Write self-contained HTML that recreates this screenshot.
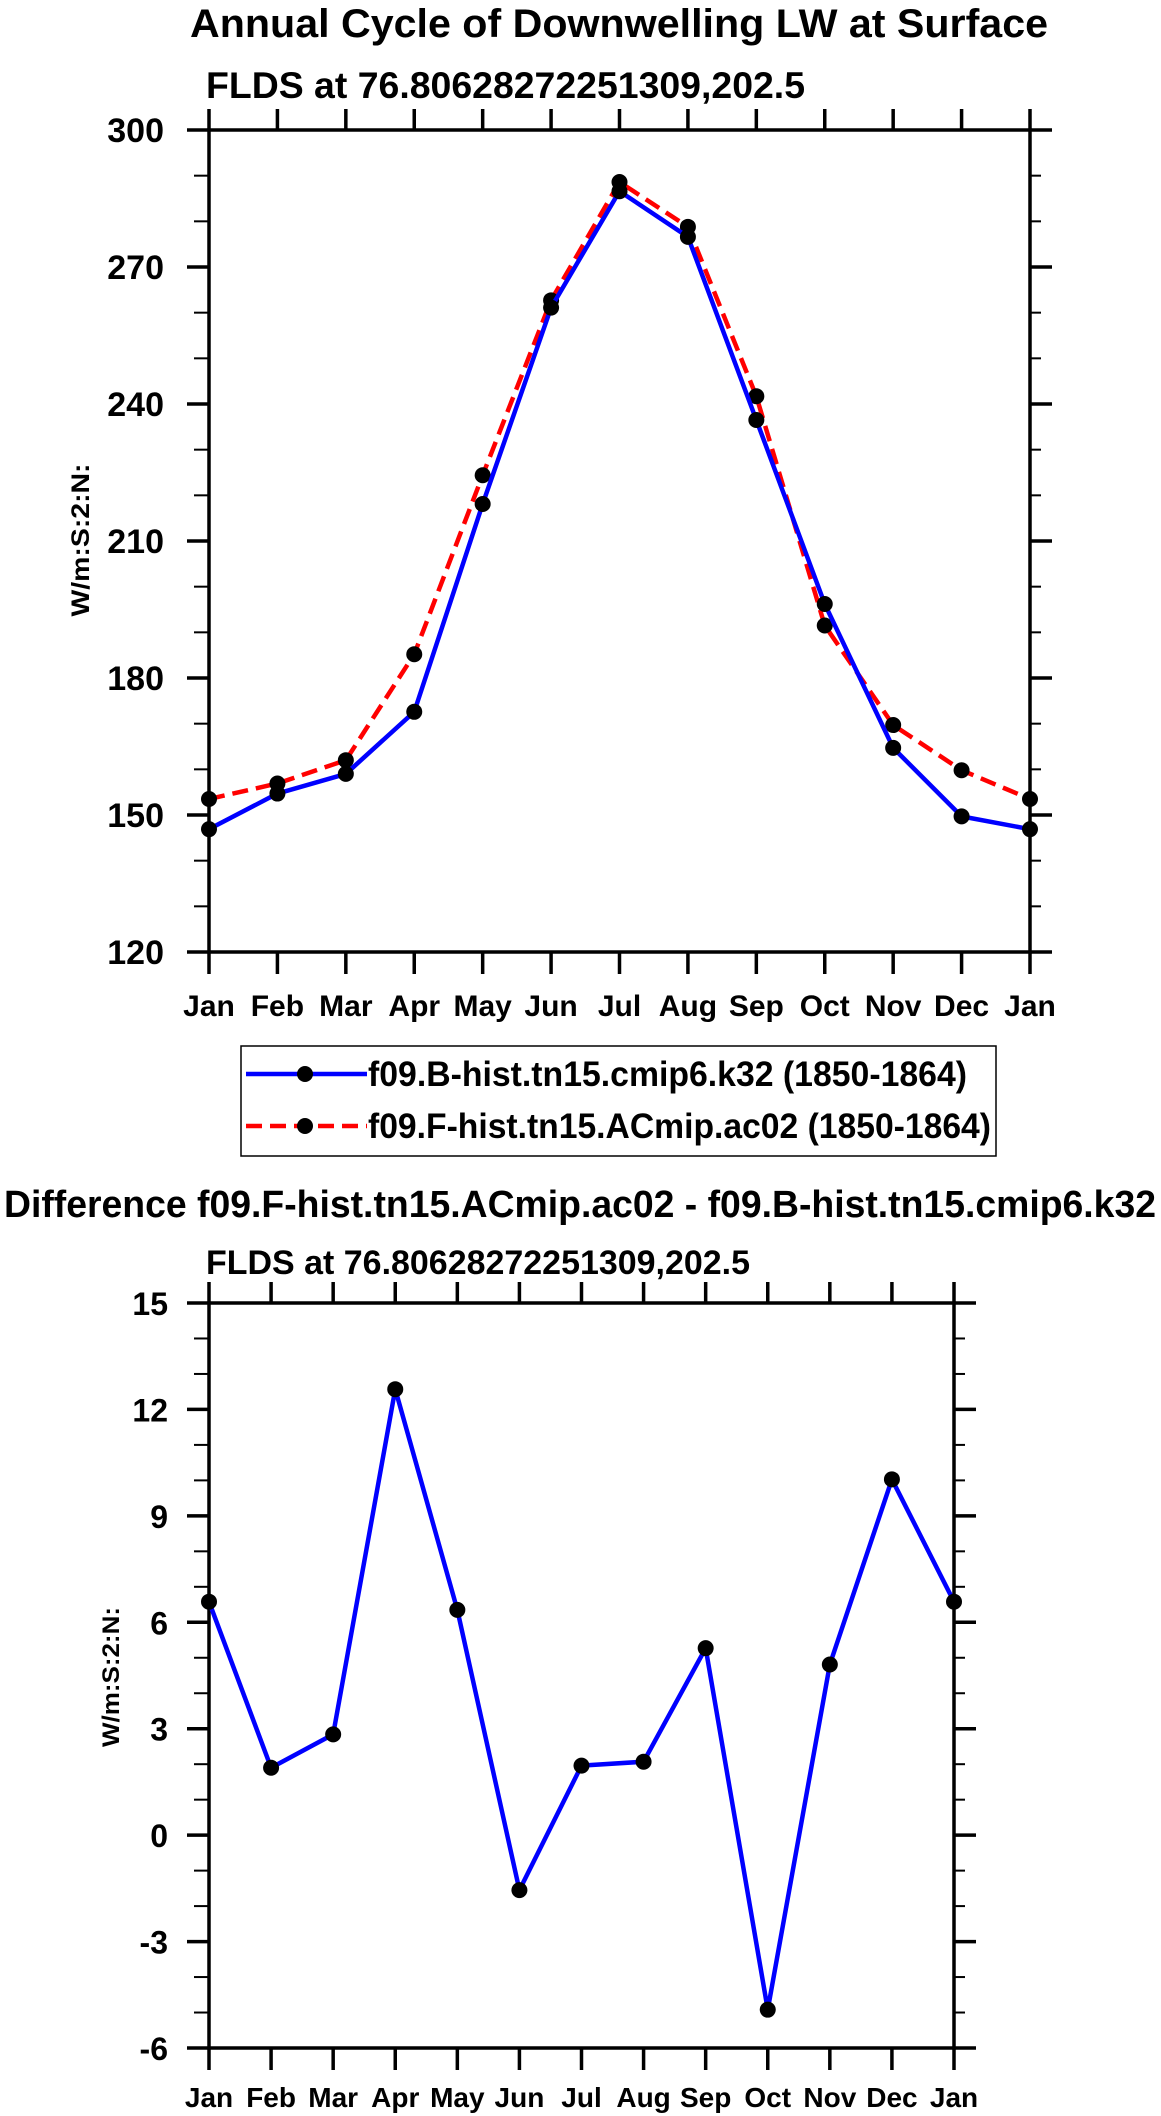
<!DOCTYPE html>
<html><head><meta charset="utf-8"><style>
html,body{margin:0;padding:0;background:#fff}
svg{display:block}
text{font-family:"Liberation Sans",sans-serif;font-weight:bold;fill:#000}
</style></head><body>
<svg id="chart" width="1161" height="2116" viewBox="0 0 1161 2116" xmlns="http://www.w3.org/2000/svg">
<text x="619" y="37" font-size="40" text-anchor="middle" textLength="858" lengthAdjust="spacingAndGlyphs">Annual Cycle of Downwelling LW at Surface</text>
<text x="206" y="98" font-size="37" textLength="599" lengthAdjust="spacingAndGlyphs">FLDS at 76.80628272251309,202.5</text>
<text x="0" y="0" font-size="25" text-anchor="middle" textLength="153" lengthAdjust="spacingAndGlyphs" transform="translate(89,540) rotate(-90)">W/m:S:2:N:</text>
<g id="top"></g>
<rect x="241" y="1046" width="755" height="110" fill="none" stroke="#000" stroke-width="1.5"/>
<g>
<line x1="246" y1="1074" x2="367" y2="1074" stroke="#0000ff" stroke-width="4.5"/>
<circle cx="305" cy="1074" r="8" fill="#000"/>
<text x="368" y="1086" font-size="35" textLength="599" lengthAdjust="spacingAndGlyphs">f09.B-hist.tn15.cmip6.k32 (1850-1864)</text>
</g>
<g>
<line x1="246" y1="1126" x2="367" y2="1126" stroke="#ff0000" stroke-width="4.5" stroke-dasharray="16,8"/>
<circle cx="305" cy="1126" r="8" fill="#000"/>
<text x="368" y="1138" font-size="35" textLength="623" lengthAdjust="spacingAndGlyphs">f09.F-hist.tn15.ACmip.ac02 (1850-1864)</text>
</g>
<text x="4" y="1217" font-size="38" textLength="1152" lengthAdjust="spacingAndGlyphs">Difference f09.F-hist.tn15.ACmip.ac02 - f09.B-hist.tn15.cmip6.k32</text>
<text x="206" y="1274" font-size="34" textLength="544" lengthAdjust="spacingAndGlyphs">FLDS at 76.80628272251309,202.5</text>
<text x="0" y="0" font-size="24" text-anchor="middle" textLength="140" lengthAdjust="spacingAndGlyphs" transform="translate(119,1677) rotate(-90)">W/m:S:2:N:</text>
<g id="bot"></g>
</svg>
<script>
const months = ["Jan","Feb","Mar","Apr","May","Jun","Jul","Aug","Sep","Oct","Nov","Dec","Jan"];
const topBlue = [146.9,154.7,159.0,172.6,218.1,261.1,286.6,276.6,236.5,196.2,164.7,149.7,146.9];
const topRed = [153.5,156.9,162.0,185.2,224.4,262.7,288.6,278.8,241.7,191.5,169.7,159.8,153.5];
const topTicks = [120,150,180,210,240,270,300];
const diffVals = [6.58,1.9,2.84,12.57,6.35,-1.55,1.96,2.07,5.27,-4.92,4.81,10.03,6.58];
const diffTicks = [-6,-3,0,3,6,9,12,15];
const NS="http://www.w3.org/2000/svg";
function mk(parent,tag,attrs){const e=document.createElementNS(NS,tag);for(const k in attrs)e.setAttribute(k,attrs[k]);parent.appendChild(e);return e;}
function drawPanel(g,cfg){
  const {L,R,T,B,ymin,ymax,ticks,minorStep,labelX,labelY,prefix,xfs,yfs}=cfg;
  const xs=i=>L+(R-L)*i/(months.length-1);
  const ys=v=>B-(v-ymin)/(ymax-ymin)*(B-T);
  for(let v=ymin;v<=ymax+1e-9;v+=minorStep){
    const y=ys(v);
    const l1=mk(g,'line',{x1:L-15,y1:y,x2:L,y2:y,stroke:'#000','stroke-width':2});
    
    
    const l2=mk(g,'line',{x1:R,y1:y,x2:R+11,y2:y,stroke:'#000','stroke-width':2});
    
    
  }
  ticks.forEach(v=>{
    const y=ys(v);
    const l1=mk(g,'line',{x1:L-22,y1:y,x2:L,y2:y,stroke:'#000','stroke-width':3.5});
    
    
    const l2=mk(g,'line',{x1:R,y1:y,x2:R+22,y2:y,stroke:'#000','stroke-width':3.5});
    
    
    const t=mk(g,'text',{x:labelX,y:y+12,'font-size':yfs,'text-anchor':'end'});
    t.textContent=v;
    
    
  });
  months.forEach((m,i)=>{
    const x=xs(i);
    const l1=mk(g,'line',{x1:x,y1:T-21,x2:x,y2:T,stroke:'#000','stroke-width':3.5});
    
    
    const l2=mk(g,'line',{x1:x,y1:B,x2:x,y2:B+22,stroke:'#000','stroke-width':3.5});
    
    
    const t=mk(g,'text',{x:x,y:labelY,'font-size':xfs,'text-anchor':'middle'});
    t.textContent=m;
    
    
  });
  const fr=mk(g,'rect',{x:L,y:T,width:R-L,height:B-T,fill:'none',stroke:'#000','stroke-width':3.5});
  
  
  cfg.series.forEach(s=>{
    const pts=s.vals.map((v,i)=>xs(i)+','+ys(v)).join(' ');
    const pl=mk(g,'polyline',{points:pts,fill:'none',stroke:s.color,'stroke-width':4.5,'stroke-dasharray':s.dash||'none','stroke-linejoin':'round'});
    
    
    s.vals.forEach((v,i)=>{
      const c=mk(g,'circle',{cx:xs(i),cy:ys(v),r:8,fill:'#000'});
      
      
    });
  });
}
drawPanel(document.getElementById('top'),{L:209,R:1030,T:130,B:952,ymin:120,ymax:300,ticks:topTicks,minorStep:10,labelX:164,labelY:1016,prefix:'top',xfs:30,yfs:34,
  series:[{vals:topRed,color:'#ff0000',dash:'16,8',name:'f-hist'},{vals:topBlue,color:'#0000ff',name:'b-hist'}]});
drawPanel(document.getElementById('bot'),{L:209,R:954,T:1303,B:2048,ymin:-6,ymax:15,ticks:diffTicks,minorStep:1,labelX:168,labelY:2107,prefix:'diff',xfs:28,yfs:32,
  series:[{vals:diffVals,color:'#0000ff',name:'difference'}]});
</script>
</body></html>
